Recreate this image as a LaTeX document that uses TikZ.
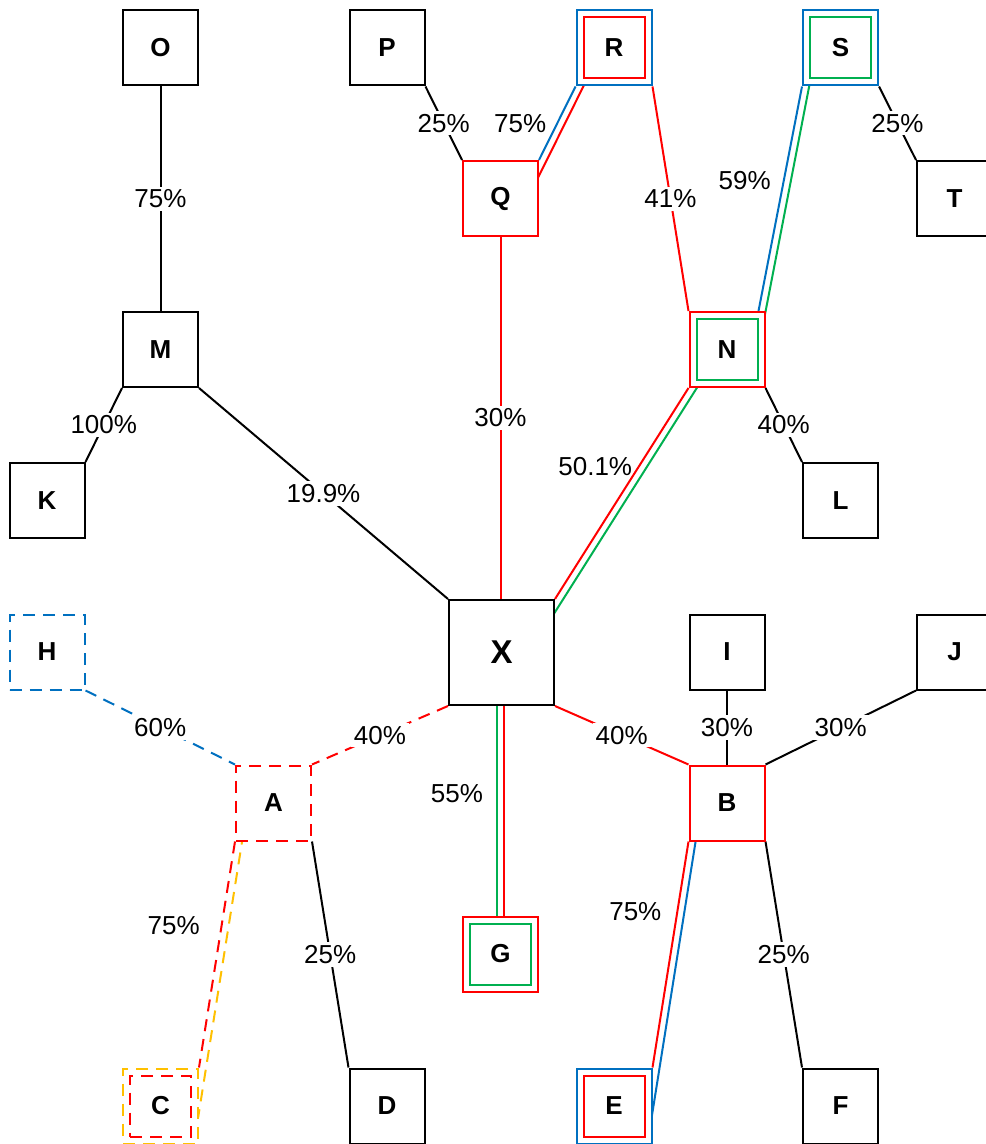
\documentclass[tikz,border=0pt]{standalone}
\usepackage{fontspec}
\setmainfont{Liberation Sans}
\usetikzlibrary{calc,backgrounds}
\definecolor{linkred}{RGB}{255,0,0}
\definecolor{linkblue}{RGB}{0,112,192}
\definecolor{linkgreen}{RGB}{0,176,80}
\definecolor{linkyellow}{RGB}{255,192,0}
\tikzset{%
unit/.style={draw=black, fill=white, line width=1pt, minimum size=37.5pt, inner sep=0pt, font=\fontsize{13}{15.6}\selectfont\bfseries},%
hub/.style={unit, minimum size=52.5pt, font=\fontsize{16.5}{19.8}\selectfont\bfseries},%
ring/.style={draw=#1, line width=1pt, minimum size=30.5pt, inner sep=0pt},%
link/.style={line width=1pt},%
twin/.style={link, shorten <=-25pt, shorten >=-25pt},%
share/.style={font=\fontsize{13}{15.6}\selectfont, text=black, fill=white, inner sep=1.5pt},%
share side/.style={font=\fontsize{13}{15.6}\selectfont, text=black, inner sep=3pt},%
broken/.style={dash pattern=on 6pt off 4pt},%
}
\begin{document}
\begin{tikzpicture}[x=0.5pt, y=-0.5pt]%
\useasboundingbox (0, 0) rectangle (985, 1144);%
\node[unit] (O) at (160.5, 48) {O};%
\node[unit] (P) at (387, 48) {P};%
\node[unit, draw=linkblue] (R) at (614, 48) {R};%
\node[ring=linkred] (Rin) at (R) {};%
\node[unit, draw=linkblue] (S) at (840.5, 48) {S};%
\node[ring=linkgreen] (Sin) at (S) {};%
\node[unit, draw=linkred] (Q) at (500.5, 198.5) {Q};%
\node[unit] (T) at (954.5, 198.5) {T};%
\node[unit] (M) at (160.5, 349.5) {M};%
\node[unit, draw=linkred] (N) at (727, 349.5) {N};%
\node[ring=linkgreen] (Nin) at (N) {};%
\node[unit] (K) at (47, 500.5) {K};%
\node[unit] (L) at (840.5, 500.5) {L};%
\node[hub] (X) at (501.5, 652.5) {X};%
\node[unit, draw=linkblue, broken] (H) at (47, 652) {H};%
\node[unit] (I) at (727, 652) {I};%
\node[unit] (J) at (954.5, 652) {J};%
\node[unit, draw=linkred, broken] (A) at (273.5, 803) {A};%
\node[unit, draw=linkred] (B) at (727, 803) {B};%
\node[unit, draw=linkred] (G) at (500.5, 954) {G};%
\node[ring=linkgreen] (Gin) at (G) {};%
\node[unit, draw=linkyellow, broken] (C) at (160.5, 1106) {C};%
\node[ring=linkred, broken] (Cin) at (C) {};%
\node[unit] (D) at (387, 1106) {D};%
\node[unit, draw=linkblue] (E) at (614, 1106) {E};%
\node[ring=linkred] (Ein) at (E) {};%
\node[unit] (F) at (840.5, 1106) {F};%
\begin{pgfonlayer}{background}%
\fill[white] (0, 0) rectangle (985, 1144);%
\draw[link] (O.south) -- node[share] {75\%} (M.north);%
\draw[link] (P.south east) -- node[share] {25\%} (Q.north west);%
\draw[link, linkblue] (R.south west) -- node[share side, left=2pt] {75\%} (Q.north east);%
\draw[twin, linkred] ($(R.south west)!3.5pt!90:(Q.north east)$) -- ($(Q.north east)!3.5pt!-90:(R.south west)$);%
\draw[link, linkred] (R.south east) -- node[share] {41\%} (N.north west);%
\draw[link] (S.south east) -- node[share] {25\%} (T.north west);%
\coordinate (Ntop) at ($(N.north east)+(-7, 0)$);%
\draw[link, linkblue] (S.south west) -- node[share side, pos=0.42, left=3pt] {59\%} (Ntop);%
\draw[twin, linkgreen] ($(S.south west)!3.5pt!90:(Ntop)$) -- ($(Ntop)!3.5pt!-90:(S.south west)$);%
\draw[link] (M.south west) -- node[share] {100\%} (K.north east);%
\draw[link] (M.south east) -- node[share] {19.9\%} (X.north west);%
\draw[link, linkred] (Q.south) -- node[share] {30\%} (Q.south |- X.north);%
\draw[link, linkred] (N.south west) -- node[share side, pos=0.37, left] {50.1\%} (X.north east);%
\draw[twin, linkgreen] ($(N.south west)!3.5pt!90:(X.north east)$) -- ($(X.north east)!3.5pt!-90:(N.south west)$);%
\draw[link] (N.south east) -- node[share] {40\%} (L.north west);%
\draw[link, linkblue, broken] (H.south east) -- node[share] {60\%} (A.north west);%
\draw[link, linkred, broken] (X.south west) -- node[share] {40\%} (A.north east);%
\draw[link, linkred] (X.south east) -- node[share] {40\%} (B.north west);%
\coordinate (Gl) at ($(G.north)+(-3.5, 0)$);%
\coordinate (Gr) at ($(G.north)+(3.5, 0)$);%
\draw[link, linkgreen] (Gl |- X.south) -- node[share side, pos=0.42, left=3.5pt] {55\%} (Gl);%
\draw[link, linkred] (Gr |- X.south) -- (Gr);%
\draw[link] (I.south) -- node[share] {30\%} (B.north);%
\draw[link] (J.south west) -- node[share] {30\%} (B.north east);%
\draw[link, linkred, broken] (A.south west) -- node[share side, pos=0.37, left=7.5pt] {75\%} (C.north east);%
\draw[twin, linkyellow, broken] ($(A.south west)!3.5pt!90:(C.north east)$) -- ($(C.north east)!3.5pt!-90:(A.south west)$);%
\draw[link] (A.south east) -- node[share] {25\%} (D.north west);%
\draw[link, linkred] (B.south west) -- node[share side, pos=0.31, left=4.5pt] {75\%} (E.north east);%
\draw[twin, linkblue] ($(B.south west)!3.5pt!90:(E.north east)$) -- ($(E.north east)!3.5pt!-90:(B.south west)$);%
\draw[link] (B.south east) -- node[share] {25\%} (F.north west);%
\end{pgfonlayer}%
\end{tikzpicture}
\end{document}
